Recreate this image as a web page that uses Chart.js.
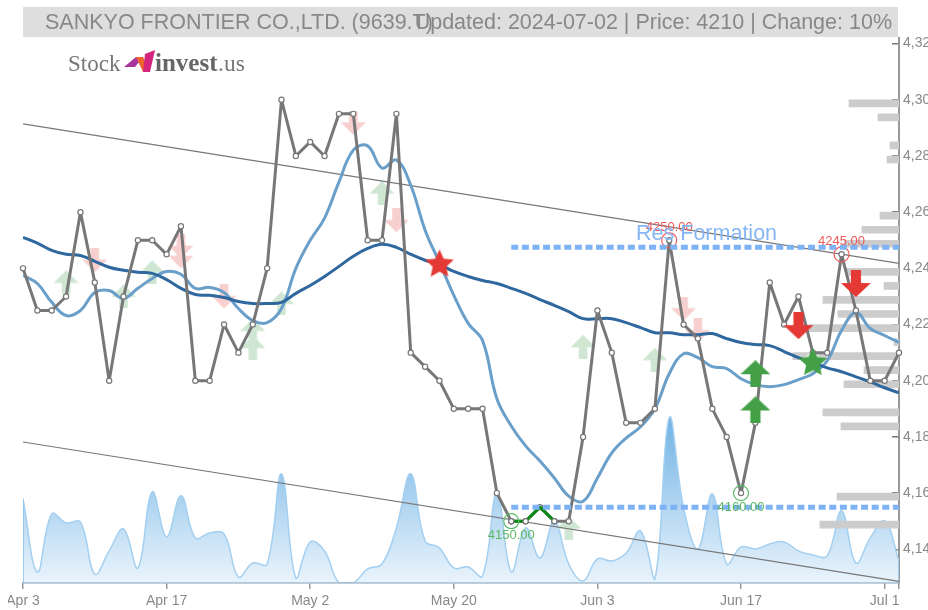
<!DOCTYPE html>
<html>
<head>
<meta charset="utf-8">
<title>SANKYO FRONTIER CO.,LTD. (9639.T)</title>
<script src="https://cdn.jsdelivr.net/npm/chart.js@4/dist/chart.umd.min.js"></script>
<style>
html, body { margin: 0; padding: 0; background: #fff; overflow: hidden; }
#wrap { position: absolute; left: 8px; top: 0; width: 920px; height: 610px; }
</style>
</head>
<body>
<div id="wrap"><canvas id="myChart" width="920" height="610"></canvas></div>
<script>
var titleLeft = "SANKYO FRONTIER CO.,LTD. (9639.T)";
var titleRight = "Updated: 2024-07-02 | Price: 4210 | Change: 10%";

var dates = ["Apr 3","Apr 4","Apr 5","Apr 8","Apr 9","Apr 10","Apr 11","Apr 12","Apr 15","Apr 16",
    "Apr 17","Apr 18","Apr 19","Apr 22","Apr 23","Apr 24","Apr 25","Apr 26","Apr 30","May 1",
    "May 2","May 7","May 8","May 9","May 10","May 13","May 14","May 15","May 16","May 17",
    "May 20","May 21","May 22","May 23","May 24","May 27","May 28","May 29","May 30","May 31",
    "Jun 3","Jun 4","Jun 5","Jun 6","Jun 7","Jun 10","Jun 11","Jun 12","Jun 13","Jun 14",
    "Jun 17","Jun 18","Jun 19","Jun 20","Jun 21","Jun 24","Jun 25","Jun 26","Jun 27","Jun 28",
    "Jul 1","Jul 2"];

var price = [4240,4225,4225,4230,4260,4235,4200,4230,4250,4250,
    4245,4255,4200,4200,4220,4210,4220,4240,4300,4280,
    4285,4280,4295,4295,4250,4250,4295,4210,4205,4200,
    4190,4190,4190,4160,4150,4150,4155,4150,4150,4180,
    4225,4210,4185,4185,4190,4250,4220,4215,4190,4180,
    4160,4185,4235,4220,4230,4210,4210,4245,4225,4200,
    4200,4210];

var maLong = [4251,4249,4246.4,4245,4244.6,4242.5,4240.4,4239.3,4238.6,4238.2,
    4236,4232.9,4230.7,4230.4,4229.6,4228.2,4227.5,4227.5,4227.9,4231.1,
    4233.9,4237.1,4240.7,4244.3,4247.1,4248.6,4247.5,4245,4242.9,4241.4,
    4238.9,4237.1,4235.7,4234.6,4232.9,4231.1,4228.9,4226.8,4224.6,4222.1,
    4222.1,4222.1,4220.7,4218.9,4217.1,4217.1,4216.4,4216.4,4216.8,4215,
    4213.6,4212.9,4212.5,4210.4,4208.2,4206.4,4204.6,4203.2,4201.4,4199.6,
    4197.5,4195.7];

var maShort = [4237.5,4234.6,4227.9,4223.2,4225,4231.4,4232.1,4229.3,4232.9,4236.4,
    4238.9,4237.9,4232.9,4233.2,4231.4,4225.7,4221.4,4220.7,4225.7,4240,
    4250,4257.9,4270.7,4282.1,4283.6,4275.7,4278.6,4269.6,4253.6,4242.1,
    4230.4,4220.4,4214.3,4193.6,4183.9,4176.8,4171.4,4165.4,4158.9,4157.1,
    4165.4,4174.3,4179.6,4183.6,4190,4202.5,4209.6,4208.2,4205,4204.3,
    4200.7,4198.6,4197.9,4198.6,4200.4,4202.5,4207.1,4217.9,4224.3,4218.6,
    4216.1,4213.6];

var volume = [84,11,69,60,61,9,32,54,15,91,
    46,87,45,50,49,6,20,19,109,5,
    41,32,0,0,14,19,55,109,42,35,
    15,16,7,90,11,55,25,62,19,2,
    24,22,30,52,4,165,75,34,89,19,
    36,34,39,41,32,28,27,72,20,45,
    62,22];

// volume by price, right hand side
var profileLevels = [4300,4295,4285,4280,4260,4255,4250,4240,4235,4230,4225,4220,4215,4210,4205,4200,4190,4185,4160,4150];
var profileValues = [50,21,9,12,19,37,55,53,15,76,61,98,5,106,35,55,76,58,62,79];

// channel, first and last day
var channelUpper = [4291.4,4241.8];
var channelLower = [4178.2,4128.6];

var resLevel = 4247.5;
var supLevel = 4155;
var levelStart = 34;

var greenRun = [34,35,36,37];

var lightUp = [[3,4235],[7,4230],[9,4238.6],[16,4217.9],[16,4211.8],[18,4227.5],[25,4266.8],[39,4212.1],[44,4207.5],[38,4147.5],[55,4207]];
var lightDown = [[5,4242.9],[11,4247.9],[11,4244.3],[14,4230],[23,4291.8],[26,4257.1],[46,4225.7],[47,4217.9]];
var strongDown = [[58,4234.6],[54,4219.6]];
var strongUp = [[51,4202.5],[51,4189.6]];
var redStar = [[29,4241.4]];
var greenStar = [[55,4206.4]];

var highs = [[45,4250],[57,4245]];
var lows = [[34,4150],[50,4160]];

function toPoints(list){
    return list.map(function(v, i){ return {x: i, y: v}; });
}
function pairs(list){
    return list.map(function(p){ return {x: p[0], y: p[1]}; });
}

function arrowIcon(w, h, color, down){
    var c = document.createElement("canvas");
    c.width = w; c.height = h;
    var g = c.getContext("2d");
    if(down){ g.translate(0, h); g.scale(1, -1); }
    var head = h * 0.52, stem = w * 0.17;
    g.fillStyle = color;
    g.beginPath();
    g.moveTo(w/2, 0);
    g.lineTo(w, head);
    g.lineTo(w/2 + stem, head);
    g.lineTo(w/2 + stem, h);
    g.lineTo(w/2 - stem, h);
    g.lineTo(w/2 - stem, head);
    g.lineTo(0, head);
    g.closePath();
    g.fill();
    return c;
}

function starIcon(r, color){
    var c = document.createElement("canvas");
    c.width = r*2; c.height = r*2;
    var g = c.getContext("2d");
    g.fillStyle = color;
    g.beginPath();
    for(var i = 0; i < 10; i++){
        var rad = i % 2 ? r*0.48 : r;
        var a = -Math.PI/2 + i*Math.PI/5;
        g.lineTo(r + rad*Math.cos(a), r + rad*Math.sin(a));
    }
    g.closePath();
    g.fill();
    return c;
}

function markerSet(list, icon, order){
    return {
        type: "scatter",
        data: pairs(list),
        pointStyle: icon,
        pointRadius: 10,
        showLine: false,
        clip: false,
        order: order
    };
}

var textPlugin = {
    id: "textPlugin",
    afterDatasetsDraw: function(chart){
        var ctx = chart.ctx, sx = chart.scales.x, sy = chart.scales.y;
        ctx.save();

        // text on the chart, red/green prices and the formation label
        ctx.textAlign = "center";
        ctx.textBaseline = "middle";
        ctx.font = "13px 'Liberation Sans'";
        ctx.fillStyle = "#ee5a5a";
        highs.forEach(function(p){
            ctx.fillText(p[1].toFixed(2), sx.getPixelForValue(p[0]), sy.getPixelForValue(p[1]) - 13);
        });
        ctx.fillStyle = "#5cb865";
        lows.forEach(function(p){
            ctx.fillText(p[1].toFixed(2), sx.getPixelForValue(p[0]), sy.getPixelForValue(p[1]) + 14);
        });
        ctx.font = "21.5px 'Liberation Sans'";
        ctx.fillStyle = "#86b7f2";
        ctx.fillText("Res Formation", sx.getPixelForValue(47.6), sy.getPixelForValue(resLevel) - 13);

        // title bar
        ctx.fillStyle = "#dedede";
        ctx.fillRect(15, 7, 875, 30);
        ctx.fillStyle = "#888888";
        ctx.textBaseline = "middle";
        ctx.textAlign = "left";
        ctx.fillText(titleLeft, 37, 23);
        ctx.textAlign = "right";
        ctx.fillText(titleRight, 884, 23);

        // logo
        ctx.textAlign = "left";
        ctx.fillStyle = "#777777";
        ctx.font = "23px 'Liberation Serif'";
        ctx.fillText("Stock", 60, 65);
        ctx.font = "bold 25px 'Liberation Serif'";
        ctx.fillStyle = "#666666";
        ctx.fillText("invest", 147, 65);
        ctx.font = "23.5px 'Liberation Serif'";
        ctx.fillStyle = "#777777";
        ctx.fillText(".us", 210, 65);
        ctx.fillStyle = "#a8359c";
        ctx.beginPath();
        ctx.moveTo(116, 67); ctx.lineTo(128, 57); ctx.lineTo(135, 57); ctx.lineTo(127, 67);
        ctx.closePath(); ctx.fill();
        ctx.fillStyle = "#f0642e";
        ctx.beginPath();
        ctx.moveTo(128, 57); ctx.lineTo(135, 57); ctx.lineTo(142, 72); ctx.lineTo(135, 72);
        ctx.closePath(); ctx.fill();
        ctx.fillStyle = "#d4267e";
        ctx.beginPath();
        ctx.moveTo(135, 72); ctx.lineTo(142, 72); ctx.lineTo(147, 50); ctx.lineTo(137, 54);
        ctx.closePath(); ctx.fill();

        ctx.restore();
    }
};

var ctx = document.getElementById("myChart");
var myChart = new Chart(ctx, {
    type: "line",
    plugins: [textPlugin],
    data: {
        datasets: [
            {
                label: "Volume",
                yAxisID: "yVol",
                data: toPoints(volume),
                borderColor: "#a3cff0",
                borderWidth: 1.5,
                pointRadius: 0,
                tension: 0.4,
                fill: "origin",
                backgroundColor: function(c){
                    var area = c.chart.chartArea;
                    if(!area) return "#cfe4f7";
                    var g = c.chart.ctx.createLinearGradient(0, 417, 0, area.bottom);
                    g.addColorStop(0, "#70b2e4");
                    g.addColorStop(1, "#eaf4fc");
                    return g;
                },
                order: 60
            },
            {
                label: "Volume edge",
                yAxisID: "yVol",
                data: [{x: 0, y: volume[0]}, {x: 0, y: 0}, {x: 61, y: 0}, {x: 61, y: volume[61]}],
                borderColor: "#8cc0ea",
                borderWidth: 1.5,
                pointRadius: 0,
                tension: 0,
                order: 59
            },
            {
                type: "bar",
                label: "Volume by price",
                indexAxis: "y",
                xAxisID: "xVol",
                yAxisID: "y",
                data: profileLevels.map(function(p, i){ return {x: profileValues[i], y: p}; }),
                backgroundColor: "#cccccc",
                barThickness: 7,
                order: 55
            },
            markerSet(lightUp, arrowIcon(25, 24, "#cfe6d2", false), 50),
            markerSet(lightDown, arrowIcon(25, 24, "#f8cfcf", true), 50),
            {
                label: "Channel upper",
                data: [{x: 0, y: channelUpper[0]}, {x: 61, y: channelUpper[1]}],
                borderColor: "#777777",
                borderWidth: 1.2,
                pointRadius: 0,
                order: 40
            },
            {
                label: "Channel lower",
                data: [{x: 0, y: channelLower[0]}, {x: 61, y: channelLower[1]}],
                borderColor: "#777777",
                borderWidth: 1.2,
                pointRadius: 0,
                order: 40
            },
            {
                label: "MA short",
                data: toPoints(maShort),
                borderColor: "#6a9fca",
                borderWidth: 3,
                pointRadius: 0,
                tension: 0.4,
                order: 35
            },
            {
                label: "MA long",
                data: toPoints(maLong),
                borderColor: "#2f679f",
                borderWidth: 3,
                pointRadius: 0,
                tension: 0.4,
                order: 34
            },
            {
                label: "Price",
                data: toPoints(price),
                borderColor: "#777777",
                borderWidth: 3,
                borderJoinStyle: "round",
                tension: 0,
                pointRadius: 2.6,
                pointBackgroundColor: "#ffffff",
                pointBorderColor: "#777777",
                pointBorderWidth: 1.2,
                clip: false,
                order: 30
            },
            {
                label: "Green run",
                data: greenRun.map(function(i){ return {x: i, y: price[i]}; }),
                borderColor: "#0a8a14",
                borderWidth: 3,
                borderJoinStyle: "round",
                tension: 0,
                pointRadius: [2.6, 2.6, 0, 2.6],
                pointBackgroundColor: "#ffffff",
                pointBorderColor: "#777777",
                pointBorderWidth: 1.2,
                order: 29
            },
            {
                type: "scatter",
                label: "Highs",
                data: pairs(highs),
                showLine: false,
                pointRadius: 7.5,
                pointBackgroundColor: "transparent",
                pointBorderColor: "#ee5a5a",
                pointBorderWidth: 1.2,
                order: 25
            },
            {
                type: "scatter",
                label: "Lows",
                data: pairs(lows),
                showLine: false,
                pointRadius: 7.5,
                pointBackgroundColor: "transparent",
                pointBorderColor: "#5cb865",
                pointBorderWidth: 1.2,
                order: 25
            },
            {
                label: "Resistance",
                data: [{x: levelStart, y: resLevel}, {x: 61, y: resLevel}],
                borderColor: "#7db3f5",
                borderWidth: 5,
                borderDash: [7, 3.6],
                pointRadius: 0,
                order: 20
            },
            {
                label: "Support",
                data: [{x: levelStart, y: supLevel}, {x: 61, y: supLevel}],
                borderColor: "#7db3f5",
                borderWidth: 5,
                borderDash: [7, 3.6],
                pointRadius: 0,
                order: 20
            },
            markerSet(strongDown, arrowIcon(30, 27, "#e53935", true), 10),
            markerSet(strongUp, arrowIcon(30, 27, "#43a047", false), 10),
            markerSet(redStar, starIcon(15, "#e53935"), 10),
            markerSet(greenStar, starIcon(15, "#43a047"), 10)
        ]
    },
    options: {
        responsive: false,
        animation: false,
        layout: { autoPadding: false, padding: { left: 15, top: 38, right: 0, bottom: 0 } },
        plugins: { legend: { display: false }, tooltip: { enabled: false } },
        scales: {
            x: {
                type: "linear",
                offset: false,
                min: 0,
                max: 61,
                afterFit: function(s){ s.height = 27; s.paddingLeft = 0; s.paddingRight = 0; },
                // last day gets a tick but no label
                afterBuildTicks: function(s){ s.ticks.push({value: 61}); },
                grid: { offset: false, drawOnChartArea: false, color: "#999999", tickLength: 6, lineWidth: 1.5 },
                border: { color: "#999999", width: 1.5 },
                ticks: {
                    stepSize: 10,
                    includeBounds: false,
                    autoSkip: false,
                    maxRotation: 0,
                    padding: 4,
                    color: "#888888",
                    font: { family: "'Liberation Sans'", size: 14 },
                    callback: function(v){ return v % 10 === 0 ? dates[v] : ""; }
                }
            },
            xVol: { type: "linear", display: false, reverse: true, min: 0, max: 875, offset: false },
            y: {
                position: "right",
                offset: false,
                min: 4128,
                max: 4322,
                afterFit: function(s){ s.width = 29; },
                grid: { offset: false, drawOnChartArea: false, color: "#777777", tickLength: -7, lineWidth: 1.5 },
                border: { color: "#999999", width: 2 },
                ticks: {
                    stepSize: 20,
                    includeBounds: false,
                    padding: 11,
                    color: "#888888",
                    font: { family: "'Liberation Sans'", size: 14 },
                    callback: function(v){ return v.toLocaleString("en-US"); }
                }
            },
            yVol: { type: "linear", display: false, min: 0, max: 544 }
        }
    }
});
</script>
</body>
</html>
